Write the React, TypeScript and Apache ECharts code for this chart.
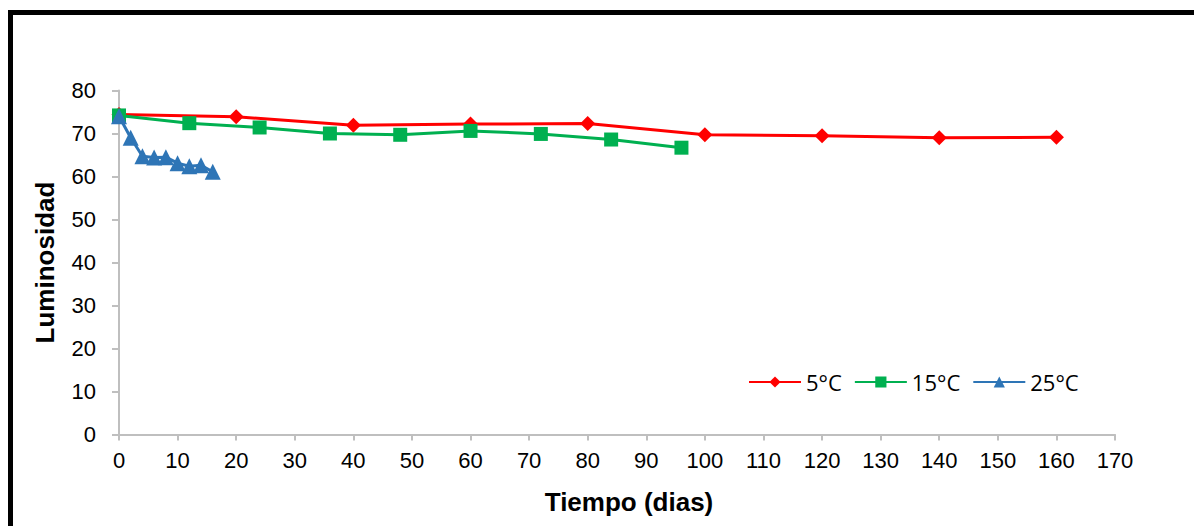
import React, { useEffect, useRef } from "react";
import * as echarts from "echarts";

const xTicks = [0, 10, 20, 30, 40, 50, 60, 70, 80, 90, 100, 110, 120, 130, 140, 150, 160, 170];
const days5 = [0, 20, 40, 60, 80, 100, 120, 140, 160];
const lum5 = [74.4, 73.9, 71.9, 72.2, 72.3, 69.7, 69.5, 69.0, 69.1];
const days15 = [0, 12, 24, 36, 48, 60, 72, 84, 96];
const lum15 = [74.2, 72.4, 71.4, 70.0, 69.7, 70.6, 69.9, 68.6, 66.7];
const days25 = [0, 2, 4, 6, 8, 10, 12, 14, 16];
const lum25 = [74.0, 69.0, 64.7, 64.4, 64.5, 63.1, 62.4, 62.6, 61.1];
const seriesNames = ["5°C", "15°C", "25°C"];
const colors = ["#FF0000", "#00B050", "#2E75B6"];

const zip = (xs: number[], ys: number[]) => xs.map((x, i) => [x, ys[i]]);

export default function App() {
  const ref = useRef<HTMLDivElement>(null);
  useEffect(() => {
    document.body.style.margin = "0";
    const chart = echarts.init(ref.current!, null, { renderer: "svg" });
    const font = "'Liberation Sans', Arial, sans-serif";
    chart.setOption({
      animation: false,
      backgroundColor: "#fff",
      grid: { left: 119, right: 79, top: 90.5, bottom: 91.5, containLabel: false },
      xAxis: {
        type: "value",
        min: xTicks[0],
        max: xTicks[xTicks.length - 1],
        interval: 10,
        name: "Tiempo (dias)",
        nameLocation: "middle",
        nameGap: 54,
        nameTextStyle: { fontFamily: font, fontWeight: "bold", fontSize: 26, color: "#000", padding: [0, 0, 0, 24] },
        axisLine: { lineStyle: { color: "#BFBFBF", width: 2 } },
        axisTick: { show: true, length: 6, lineStyle: { color: "#BFBFBF", width: 2 } },
        splitLine: { show: false },
        axisLabel: { fontFamily: font, fontSize: 22, color: "#000", margin: 15 },
      },
      yAxis: {
        type: "value",
        min: 0,
        max: 80,
        interval: 10,
        name: "Luminosidad",
        nameLocation: "middle",
        nameGap: 61,
        nameTextStyle: { fontFamily: font, fontWeight: "bold", fontSize: 26, color: "#000" },
        axisLine: { show: true, lineStyle: { color: "#BFBFBF", width: 2 } },
        axisTick: { show: true, length: 7, lineStyle: { color: "#BFBFBF", width: 2 } },
        splitLine: { show: false },
        axisLabel: { fontFamily: font, fontSize: 22, color: "#000", margin: 23 },
      },
      legend: {
        left: 743,
        top: 366,
        itemWidth: 52,
        itemHeight: 14,
        itemGap: 12,
        data: seriesNames,
        textStyle: { fontFamily: "'Open Sans', Lato, sans-serif", fontSize: 22, color: "#000" },
      },
      graphic: [
        {
          type: "rect",
          shape: { x: 10.5, y: 12.5, width: 1400, height: 800 },
          style: { fill: "none", stroke: "#000", lineWidth: 5 },
          silent: true,
        },
      ],
      series: [
        {
          name: seriesNames[0],
          type: "line",
          data: zip(days5, lum5),
          symbol: "diamond",
          symbolSize: 15,
          lineStyle: { color: colors[0], width: 3 },
          itemStyle: { color: colors[0] },
          z: 3,
        },
        {
          name: seriesNames[1],
          type: "line",
          data: zip(days15, lum15),
          symbol: "rect",
          symbolSize: 14,
          lineStyle: { color: colors[1], width: 3 },
          itemStyle: { color: colors[1] },
          z: 4,
        },
        {
          name: seriesNames[2],
          type: "line",
          data: zip(days25, lum25),
          symbol: "triangle",
          symbolSize: 16,
          lineStyle: { color: colors[2], width: 3 },
          itemStyle: { color: colors[2] },
          z: 5,
        },
      ],
    });
    return () => chart.dispose();
  }, []);
  return <div ref={ref} style={{ position: "fixed", left: 0, top: 0, width: 1194, height: 526 }} />;
}
